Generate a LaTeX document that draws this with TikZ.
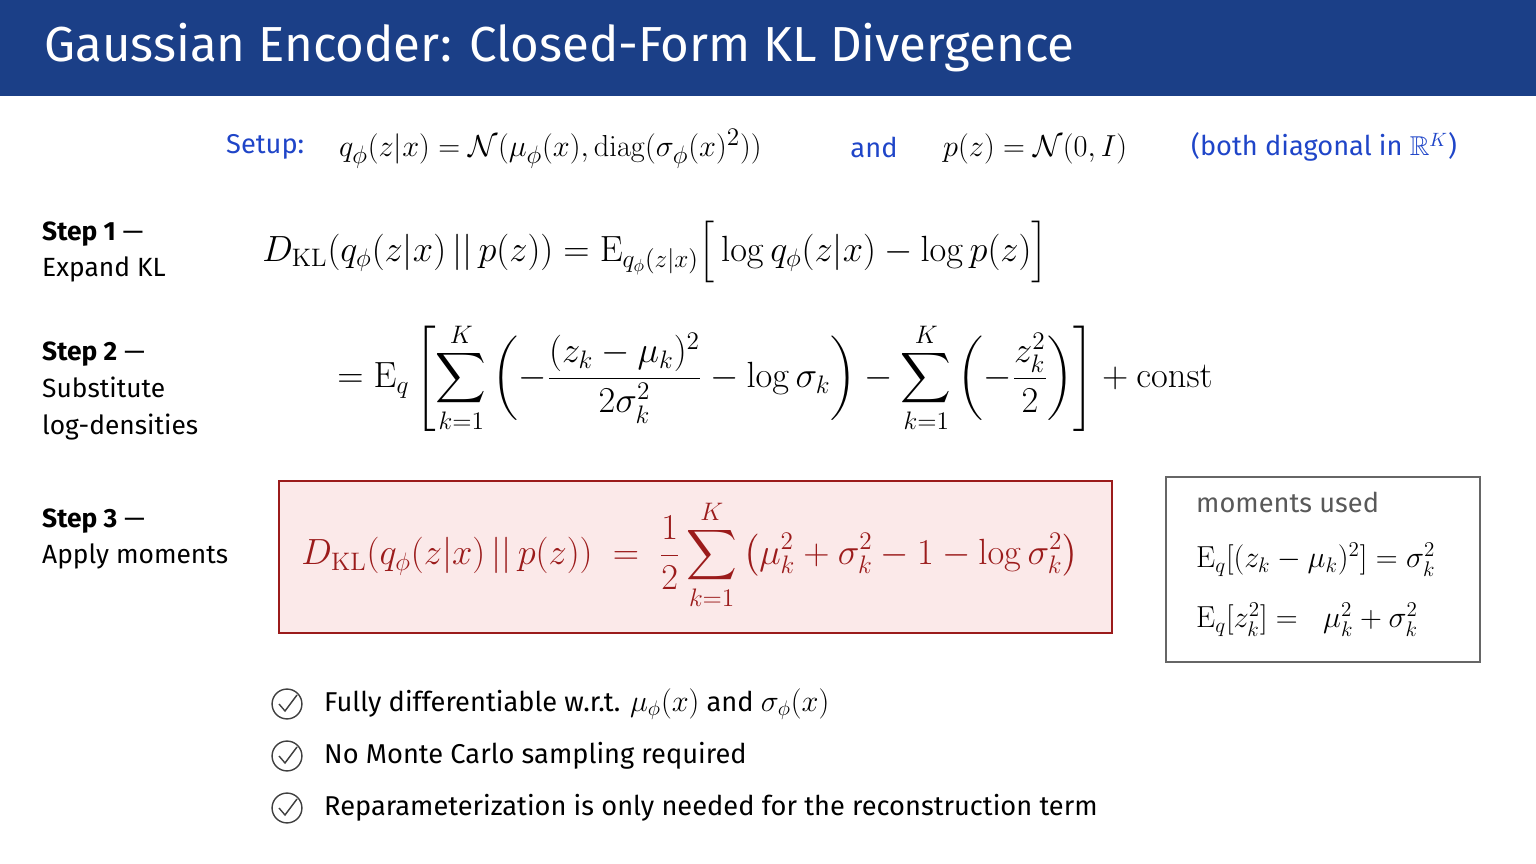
\documentclass[tikz,border=0pt]{standalone}
\usepackage{amsmath,amssymb}
\usepackage[no-math]{fontspec}
\setmainfont{Fira Sans}
\definecolor{titleblue}{HTML}{1B3F87}
\definecolor{setupblue}{HTML}{1F45C8}
\definecolor{darkred}{HTML}{9B1B1B}
\definecolor{boxfill}{HTML}{FBE9E9}
\newcommand{\inlmath}[1]{{\fontsize{18}{22}\selectfont$#1$}}
\tikzset{
  steplabel/.style={anchor=west, font=\fontsize{15}{18}\selectfont, align=left},
  eqn/.style={font=\fontsize{20}{24}\selectfont},
  check/.style={draw=black!75, circle, thick, minimum size=17pt, inner sep=0pt},
  bullet/.style={anchor=west, font=\fontsize{15.5}{19}\selectfont}
}
\begin{document}
\begin{tikzpicture}[x=0.02cm, y=-0.02cm]
\useasboundingbox (0,0) rectangle (1536,864);
\fill[titleblue] (0,0) rectangle (1536,96);
\node[anchor=west, text=white, font=\fontsize{28}{32}\selectfont] (title) at (38,48) {Gaussian Encoder: Closed-Form KL Divergence};

% setup line
\node[anchor=west, text=setupblue, font=\fontsize{15.5}{19}\selectfont] (setup) at (220,147) {Setup:};
\node[anchor=west, font=\fontsize{19}{22}\selectfont] (qdef) at (333,149) {$q_\phi(z|x)=\mathcal{N}(\mu_\phi(x),\operatorname{diag}(\sigma_\phi(x)^2))$};
\node[text=setupblue, font=\fontsize{15.5}{19}\selectfont] (and) at (874,147) {and};
\node[anchor=west, font=\fontsize{19}{22}\selectfont] (pdef) at (937,149) {$p(z)=\mathcal{N}(0,I)$};
\node[anchor=west, text=setupblue, font=\fontsize{15.5}{19}\selectfont] (diag) at (1185,147) {(both diagonal in $\mathbb{R}^K$)};

% step 1
\node[steplabel] (s1) at (36,252) {\textbf{Step 1} —\\[3pt]Expand KL};
\node[font=\fontsize{19.5}{23}\selectfont] (e1) at (655,252) {$D_{\mathrm{KL}}(q_\phi(z|x)\,||\,p(z))=\mathrm{E}_{q_\phi(z|x)}\Big[\log q_\phi(z|x)-\log p(z)\Big]$};

% step 2
\node[steplabel] (s2) at (36,391) {\textbf{Step 2} —\\[3pt]Substitute\\[3pt]log-densities};
\node[eqn] (e2) at (775,378) {$\displaystyle =\mathrm{E}_q\left[\sum_{k=1}^{K}\left(-\frac{(z_k-\mu_k)^2}{2\sigma_k^2}-\log\sigma_k\right)-\sum_{k=1}^{K}\left(-\frac{z_k^2}{2}\right)\right]+\mathrm{const}$};

% step 3
\node[steplabel] (s3) at (36,539) {\textbf{Step 3} —\\[3pt]Apply moments};
\draw[darkred, fill=boxfill, thick] (279,481) rectangle (1112,633);
\node[eqn, text=darkred] (e3) at (690,555) {$\displaystyle D_{\mathrm{KL}}(q_\phi(z|x)\,||\,p(z))\;=\;\frac{1}{2}\sum_{k=1}^{K}\left(\mu_k^2+\sigma_k^2-1-\log\sigma_k^2\right)$};

% moments box
\draw[black!60, thick, fill=white] (1166,477) rectangle (1480,662);
\node[anchor=west, text=black!65, font=\fontsize{15.5}{19}\selectfont] (mu) at (1190,502) {moments used};
\node[anchor=west, font=\fontsize{18}{22}\selectfont] (m1) at (1190,560) {$\mathrm{E}_q[(z_k-\mu_k)^2]=\sigma_k^2$};
\node[anchor=west, font=\fontsize{18}{22}\selectfont] (m2) at (1190,620) {$\mathrm{E}_q[z_k^2]=\;\;\mu_k^2+\sigma_k^2$};

% checks
\foreach \y/\t [count=\i] in {704/{Fully differentiable w.r.t. \inlmath{\mu_\phi(x)} and \inlmath{\sigma_\phi(x)}},
    756/{No Monte Carlo sampling required},
    808/{Reparameterization is only needed for the reconstruction term}} {
  \node[check] (c\i) at (287,\y) {};
  \draw[black!75, thick] (279,\y) -- (285,\y+7) -- (297,\y-9);
  \node[bullet] (b\i) at (318,\y) {\t};
}
\end{tikzpicture}
\end{document}
